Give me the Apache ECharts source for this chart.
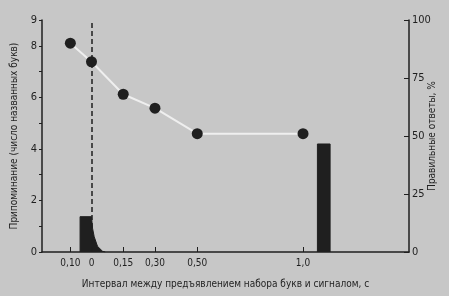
<!DOCTYPE html>
<html><head><meta charset="utf-8">
<script src="https://cdn.jsdelivr.net/npm/echarts@6/dist/echarts.min.js"></script>
<style>html,body{margin:0;padding:0;background:#c7c7c7}#c{width:449px;height:296px}</style>
</head><body><div id="c"></div>
<script>
// Tick positions (seconds) and their printed labels
const xTickValues = [-0.10, 0, 0.15, 0.30, 0.50, 1.0];
const xTickLabels = ['0,10', '0', '0,15', '0,30', '0,50', '1,0'];
// Correct answers, % (right axis)
const correctX = [-0.10, 0, 0.15, 0.30, 0.50, 1.0];
const correctPct = [90, 82, 68, 62, 51, 51];
// Recall histogram outlines (left axis): [seconds, letters]
const recallNearX = [-0.054, -0.054, 0, 0.0047, 0.0128, 0.0284, 0.052, 0.065];
const recallNearY = [0, 1.37, 1.37, 0.93, 0.59, 0.22, 0.03, 0];
const recallFarX = [1.068, 1.068, 1.128, 1.128];
const recallFarY = [0, 4.19, 4.19, 0];
const leftLabels = [0, 2, 4, 6, 8, 9];
const xName = 'Интервал между предъявлением набора букв и сигналом, с';

const dark = '#1f1f1f';
// pick a condensed font if one is installed
const ctx = document.createElement('canvas').getContext('2d');
function w(font, size) { ctx.font = size + 'px ' + font; return ctx.measureText(xName).width; }
const base = w('monospace', 20);
let family = '"Liberation Sans"';
for (const f of ['"Liberation Sans Narrow"', '"DejaVu Sans Condensed"', '"Liberation Sans"']) {
  if (Math.abs(w(f + ',monospace', 20) - base) > 1) { family = f; break; }
}
const font = family + ',sans-serif';
const nameSize = Math.min(12, Math.max(10, Math.round(12 * 262 / w(font, 12) * 2) / 2));
const zip = (a, b) => a.map((v, i) => [v, b[i]]);

const chart = echarts.init(document.getElementById('c'));
chart.setOption({
  backgroundColor: '#c7c7c7',
  animation: false,
  textStyle: { fontFamily: font },
  grid: { left: 42, right: 40, top: 20, bottom: 44, outerBoundsMode: 'none', containLabel: false },
  xAxis: {
    type: 'value', min: -0.234, max: 1.501,
    name: xName,
    nameLocation: 'middle', nameGap: 27,
    nameTextStyle: { color: dark, fontFamily: font, fontSize: nameSize },
    axisLine: { onZero: false, lineStyle: { color: dark, width: 1.5 } },
    axisTick: { inside: true, length: 5, lineStyle: { color: dark, width: 1 },
      customValues: xTickValues.filter(v => v !== 0) },
    axisLabel: { customValues: xTickValues, margin: 6, color: dark, fontFamily: font, fontSize: 10,
      formatter: v => { const i = xTickValues.findIndex(t => Math.abs(t - v) < 1e-6); return i >= 0 ? xTickLabels[i] : ''; } },
    splitLine: { show: false }
  },
  yAxis: [{
    type: 'value', min: 0, max: 9, interval: 1, position: 'left',
    name: 'Припоминание (число названных букв)',
    nameLocation: 'middle', nameGap: 23, nameRotate: 90,
    nameTextStyle: { color: dark, fontFamily: font, fontSize: nameSize },
    axisLine: { show: true, onZero: false, lineStyle: { color: dark, width: 1.5 } },
    axisTick: { show: true, length: 3, lineStyle: { color: dark, width: 1 } },
    axisLabel: { color: dark, fontFamily: font, fontSize: 11, margin: 5,
      formatter: v => leftLabels.includes(v) ? String(v) : '' },
    splitLine: { show: false }
  }, {
    type: 'value', min: 0, max: 100, interval: 25, position: 'right',
    name: 'Правильные ответы, %',
    nameLocation: 'middle', nameGap: 18, nameRotate: 90, nameMoveOverlap: false,
    nameTextStyle: { color: dark, fontFamily: font, fontSize: nameSize },
    axisLine: { show: true, onZero: false, lineStyle: { color: dark, width: 1.5 } },
    axisTick: { show: true, inside: true, length: 5, lineStyle: { color: dark, width: 1 } },
    axisLabel: { color: dark, fontFamily: font, fontSize: 11, margin: 3 },
    splitLine: { show: false }
  }],
  series: [{
    type: 'line', yAxisIndex: 0, data: zip(recallNearX, recallNearY),
    symbol: 'none', smooth: false,
    lineStyle: { color: dark, width: 1 }, areaStyle: { color: dark, opacity: 1 },
    markLine: { silent: true, symbol: 'none', label: { show: false },
      lineStyle: { color: dark, type: [5, 3], width: 1.5 },
      data: [{ xAxis: 0 }] },
    z: 2
  }, {
    type: 'line', yAxisIndex: 0, data: zip(recallFarX, recallFarY),
    symbol: 'none', lineStyle: { color: dark, width: 1 }, areaStyle: { color: dark, opacity: 1 }, z: 2
  }, {
    type: 'line', yAxisIndex: 1, data: zip(correctX, correctPct),
    symbol: 'circle', symbolSize: 11,
    lineStyle: { color: '#efefef', width: 2 },
    itemStyle: { color: dark, borderWidth: 0 }, z: 3
  }]
});
</script></body></html>
